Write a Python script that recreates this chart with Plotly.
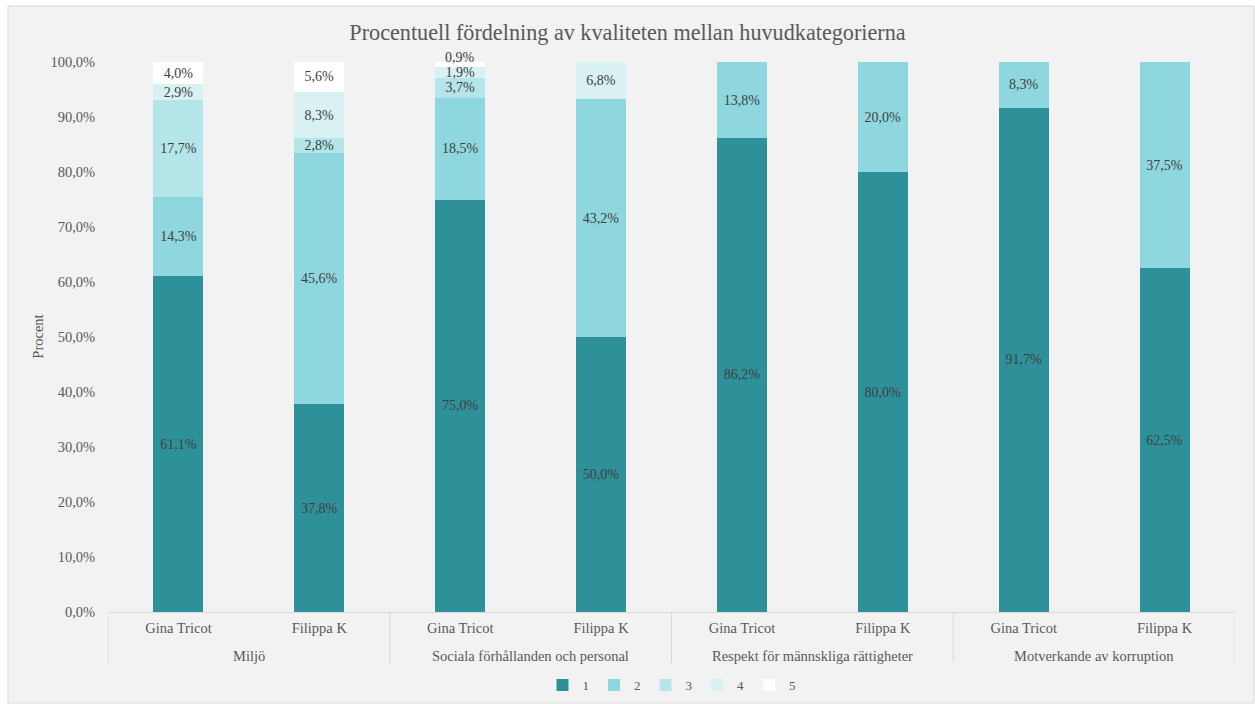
import plotly.graph_objects as go

groups = ["Miljö", "Sociala förhållanden och personal",
          "Respekt för männskliga rättigheter", "Motverkande av korruption"]
brands = ["Gina Tricot", "Filippa K"] * 4
group_of_bar = [0, 0, 1, 1, 2, 2, 3, 3]

series_names = ["1", "2", "3", "4", "5"]
s1 = [61.1, 37.8, 75.0, 50.0, 86.2, 80.0, 91.7, 62.5]
s2 = [14.3, 45.6, 18.5, 43.2, 13.8, 20.0, 8.3, 37.5]
s3 = [17.7, 2.8, 3.7, 0.0, 0.0, 0.0, 0.0, 0.0]
s4 = [2.9, 8.3, 1.9, 6.8, 0.0, 0.0, 0.0, 0.0]
s5 = [4.0, 5.6, 0.9, 0.0, 0.0, 0.0, 0.0, 0.0]
series = [s1, s2, s3, s4, s5]
colors = ["#2E9199", "#8FD7DE", "#B3E5E9", "#D9F1F3", "#FFFFFF"]
y_ticks = list(range(0, 101, 10))

FONT = "Liberation Serif"
TXT = "#404040"
AX = "#595959"
LINE = "#D9D9D9"

def fmt(v):
    return f"{v:.1f}".replace(".", ",") + "%"

xs = list(range(len(brands)))
totals = [sum(s[i] for s in series) for i in xs]

fig = go.Figure()
annotations = []
for k, (name, vals, col) in enumerate(zip(series_names, series, colors)):
    texts = []
    for i, v in enumerate(vals):
        if v == 0:
            texts.append("")
        elif k == len(series) - 1 and v < 1.5:
            # too thin: label above the stack
            texts.append("")
            annotations.append(dict(x=xs[i], y=totals[i], xref="x", yref="y",
                                    text=fmt(v), showarrow=False, yanchor="middle",
                                    yshift=5, font=dict(family=FONT, size=14, color=TXT)))
        else:
            texts.append(fmt(v))
    fig.add_trace(go.Bar(
        x=xs, y=vals, name=name,
        marker=dict(color=col, line=dict(width=0)),
        text=texts, texttemplate="%{text}",
        textposition="inside", insidetextanchor="middle",
        constraintext="none", cliponaxis=False,
        textfont=dict(family=FONT, size=14, color=TXT),
        insidetextfont=dict(family=FONT, size=14, color=TXT),
        hoverinfo="skip",
    ))

W, H = 1255, 704
Y_TOP = 100.2
BOTTOM_PX, PX_PER_UNIT = 612, 5.5
L, R = 108, 20
B = H - BOTTOM_PX
T = round(BOTTOM_PX - Y_TOP * PX_PER_UNIT)
pw, ph = W - L - R, H - T - B

def px_y(p):
    return (H - B - p) / ph

def px_x(p):
    return (p - L) / pw

shapes = [dict(type="rect", xref="paper", yref="paper", layer="below",
               x0=px_x(8), x1=px_x(1254), y0=px_y(703), y1=px_y(6),
               fillcolor="#F2F2F2", line=dict(color=LINE, width=1))]
for g, gname in enumerate(groups):
    members = [xs[i] for i in xs if group_of_bar[i] == g]
    annotations.append(dict(x=sum(members) / len(members), y=px_y(656), xref="x", yref="paper",
                            text=gname, showarrow=False, yanchor="middle",
                            font=dict(family=FONT, size=14.5, color=AX)))
    left = min(members) - 0.5
    shapes.append(dict(type="line", xref="x", yref="paper", x0=left, x1=left,
                       y0=0, y1=px_y(663), line=dict(color=LINE, width=1)))
right_edge = max(xs) + 0.5
shapes.append(dict(type="line", xref="x", yref="paper", x0=right_edge, x1=right_edge,
                   y0=0, y1=px_y(663), line=dict(color=LINE, width=1)))

fig.update_layout(
    width=W, height=H,
    margin=dict(l=L, r=R, t=T, b=B, autoexpand=False),
    barmode="stack", bargap=0.645,
    separators=", ",
    paper_bgcolor="#FFFFFF", plot_bgcolor="rgba(0,0,0,0)",
    font=dict(family=FONT, color=AX, size=14),
    title=dict(text="Procentuell fördelning av kvaliteten mellan huvudkategorierna",
               x=0.5, xanchor="center", y=1 - 32 / H, yanchor="middle",
               font=dict(family=FONT, size=22.2, color=AX)),
    showlegend=True,
    legend=dict(orientation="h", x=0.5, xanchor="center", y=px_y(685), yanchor="middle",
                font=dict(family=FONT, size=13, color=AX),
                bgcolor="rgba(0,0,0,0)", traceorder="normal", itemwidth=30),
    shapes=shapes,
    annotations=annotations,
)
fig.update_xaxes(
    range=[-0.5, len(xs) - 0.5], tickvals=xs, ticktext=brands,
    showline=True, linecolor=LINE, linewidth=1,
    tickfont=dict(family=FONT, size=14.5, color=AX),
    showgrid=False, zeroline=False, ticks="outside", ticklen=3,
    tickcolor="rgba(0,0,0,0)",
)
fig.update_yaxes(
    range=[0, Y_TOP], tickvals=y_ticks, ticktext=[fmt(v) for v in y_ticks],
    showgrid=False, zeroline=False, showline=False,
    ticks="outside", ticklen=9, tickcolor="rgba(0,0,0,0)",
    tickfont=dict(family=FONT, size=14.5, color=AX),
    title=dict(text="Procent", font=dict(family=FONT, size=14.5, color=AX), standoff=3),
)

fig.write_html("out.html")
